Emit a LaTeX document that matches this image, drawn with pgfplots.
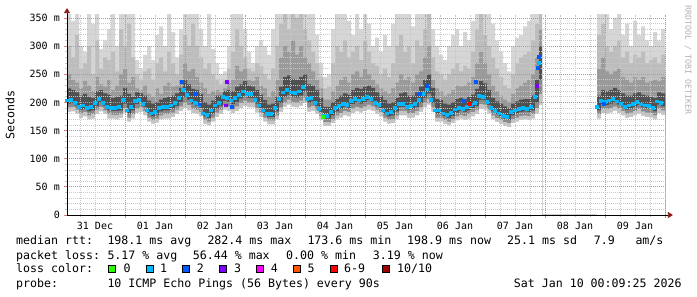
\documentclass[border=0pt]{standalone}
\usepackage{fontspec}
\setmainfont{DejaVu Sans Mono}
\usepackage{pgfplots}
\pgfplotsset{compat=1.18}
\usepackage{pgfplotstable}
\usetikzlibrary{arrows.meta}
\definecolor{mgrid}{RGB}{222,130,130}
\definecolor{sgrid}{RGB}{200,200,200}
\definecolor{arr}{RGB}{140,25,25}
\definecolor{s1}{RGB}{214,214,214}
\definecolor{s2}{RGB}{189,189,189}
\definecolor{s3}{RGB}{154,154,154}
\definecolor{s4}{RGB}{80,80,80}
\definecolor{s5}{RGB}{138,138,138}
\definecolor{s6}{RGB}{196,196,196}
\definecolor{lzero}{HTML}{26FF00}
\definecolor{lone}{HTML}{00B8FF}
\definecolor{ltwo}{HTML}{0059FF}
\definecolor{lthree}{HTML}{7E00FF}
\definecolor{lfour}{HTML}{FF00FF}
\definecolor{lfive}{HTML}{FF5500}
\definecolor{lsix}{HTML}{FF0000}
\definecolor{lten}{HTML}{A10000}
\newcommand{\lf}{\fontsize{11.6bp}{14bp}\selectfont}
\newcommand{\tf}{\fontsize{10bp}{12bp}\selectfont}
% x = minutes/24 since 31 Dec 00:00 (1 unit = 24 min), y = ms
\pgfplotstableread{
x t a b c m d e f
2 360 300 250 225 204 198 191 183
6 345 280 240 222 205 199 192 184
10 360 320 235 218 200 194 187 179
14 300 260 225 212 193 187 180 172
18 290 270 238 215 195 189 183 175
22 360 300 230 210 190 184 177 170
26 340 250 220 208 192 186 179 171
30 360 310 245 220 200 194 187 179
34 295 260 232 222 206 200 192 184
38 310 280 228 216 200 194 186 179
42 330 275 240 214 192 186 179 171
46 360 290 222 208 191 185 178 171
50 300 255 230 210 191 185 178 170
54 360 330 250 212 192 186 179 172
58 360 300 260 226 205 198 190 182
62 360 340 235 215 186 180 173 166
66 360 280 245 210 192 186 179 171
70 275 250 225 218 203 197 189 181
74 260 240 222 216 205 199 191 183
78 285 255 230 212 198 192 185 177
82 300 260 215 203 186 180 173 166
86 275 240 210 198 181 175 169 162
90 320 270 225 200 184 178 171 164
94 335 280 215 205 190 184 177 170
98 300 255 230 208 192 186 179 171
102 360 290 235 210 192 186 179 171
106 325 270 228 212 195 189 182 174
110 280 250 230 216 200 194 187 179
114 330 285 240 226 208 201 193 185
118 360 320 270 240 222 210 200 190
122 360 300 255 232 213 204 195 186
126 360 340 260 224 204 197 189 181
130 360 300 245 222 200 194 187 179
134 330 280 235 215 196 190 183 175
138 300 260 225 200 181 175 169 162
142 360 270 215 196 178 172 166 159
146 295 250 220 203 186 180 173 166
150 270 240 222 212 195 189 182 174
154 250 232 218 212 200 194 187 179
158 255 238 225 220 210 203 195 187
162 300 260 235 222 208 201 193 185
166 360 290 240 220 204 197 189 181
170 360 330 265 228 208 201 193 185
174 360 300 255 232 214 207 199 190
178 330 280 260 238 220 212 203 194
182 290 260 240 230 215 208 200 191
186 270 255 238 228 215 208 200 191
190 300 270 245 222 205 198 190 182
194 310 265 230 214 195 189 182 174
198 300 250 225 204 186 180 173 166
202 285 240 210 196 180 174 168 161
206 330 260 220 198 180 174 168 161
210 360 300 240 210 190 184 177 170
214 360 340 280 228 206 199 191 183
218 360 360 300 245 218 210 201 192
222 360 330 290 248 222 214 205 196
226 360 360 310 242 218 210 201 192
230 360 350 285 240 217 209 200 191
234 360 360 300 245 220 212 203 194
238 360 330 280 250 228 219 209 199
242 360 310 270 232 206 199 191 183
246 360 290 255 230 209 202 194 185
250 320 270 240 222 200 194 187 179
254 270 245 225 208 189 183 176 169
258 245 225 205 192 176 171 165 158
262 250 228 205 192 176 171 165 158
266 330 270 220 200 183 177 170 163
270 360 300 230 206 190 184 177 170
274 360 290 240 212 194 188 181 173
278 360 310 245 216 198 192 185 177
282 345 280 235 214 196 190 183 175
286 320 290 250 222 203 197 189 181
290 360 300 255 226 206 200 192 184
294 330 275 245 224 204 198 190 182
298 360 310 260 228 207 201 193 185
302 340 290 250 230 210 204 196 187
306 300 270 240 226 207 201 193 185
310 315 265 232 218 200 194 187 179
314 290 250 225 212 196 190 183 175
318 320 260 220 204 186 180 173 166
322 300 245 215 198 181 175 169 162
326 340 270 225 200 183 177 170 163
330 360 300 235 208 190 184 177 170
334 360 320 250 216 198 192 185 177
338 360 290 240 218 198 192 185 177
342 360 300 245 212 193 187 180 172
346 335 270 235 212 194 188 181 173
350 360 310 250 218 198 192 185 177
354 360 300 255 228 205 199 191 183
358 360 330 280 240 215 208 200 191
362 360 360 300 250 225 216 206 196
366 330 280 240 226 205 199 191 183
370 300 255 225 206 186 180 173 166
374 285 250 220 204 186 180 173 166
378 275 240 212 198 181 175 169 162
382 300 250 215 196 178 172 166 159
386 320 260 222 200 182 176 170 163
390 330 270 230 206 188 182 175 168
394 300 255 228 208 191 185 178 171
398 325 265 230 206 189 183 176 169
402 310 260 235 210 192 186 179 171
406 345 290 245 214 196 190 183 175
410 360 330 270 224 200 194 187 179
414 360 360 290 238 212 205 197 188
418 360 320 270 234 210 204 196 187
422 360 300 250 222 201 195 188 180
426 340 280 230 208 190 184 177 170
430 310 260 220 202 185 179 172 165
434 290 245 212 198 181 175 169 162
438 270 230 205 193 177 171 165 158
442 255 225 200 190 175 169 163 156
446 300 250 215 198 183 177 170 163
450 315 270 225 202 186 180 173 166
454 320 280 230 205 189 183 176 169
458 335 285 235 206 190 184 177 170
462 345 290 240 206 189 183 176 169
466 360 310 250 212 192 186 179 171
470 360 340 280 240 210 200 190 180
474 360 360 330 300 270 240 215 195
477 0 0 0 0 nan 0 0 0
532 360 320 260 212 192 186 179 171
536 360 340 280 222 203 197 189 181
540 360 300 255 220 201 195 188 180
544 330 290 250 222 204 198 190 182
548 350 300 255 226 207 201 193 185
552 360 310 260 222 202 196 189 181
556 320 280 245 216 198 192 185 177
560 340 290 240 212 193 187 180 172
564 300 270 235 212 195 189 182 174
568 345 285 245 216 198 192 185 177
572 320 280 240 218 201 195 188 180
576 335 290 245 214 197 191 184 176
580 310 270 235 212 195 189 182 174
584 300 275 238 210 194 188 181 173
588 325 280 240 208 190 184 177 170
592 310 270 238 218 202 196 189 181
596 330 285 245 216 199 193 186 178
600.4 330 285 245 216 nan 193 186 178
}\smoke
\begin{document}
\begin{tikzpicture}
\path[use as bounding box] (0bp,0bp) rectangle (697bp,297bp);
\begin{axis}[
  at={(67bp,82bp)}, anchor=south west,
  scale only axis, width=598.4bp, height=200.4bp,
  xmin=2, xmax=600.4, ymin=0, ymax=356,
  axis on top,
  axis x line*=bottom, axis y line*=left,
  axis line style={black, line width=0.8bp},
  x axis line style={-{Triangle[length=5bp,width=6bp,color=arr]}, shorten >=-7.5bp},
  y axis line style={-{Triangle[length=5bp,width=6bp,color=arr]}, shorten >=-6.5bp},
  tick align=outside,
  major tick length=3bp, minor tick length=2bp,
  every major tick/.style={mgrid, line width=0.8bp},
  every minor tick/.style={sgrid, line width=0.8bp},
  grid=both,
  major grid style={mgrid, line width=0.8bp, dash pattern=on 1bp off 1bp},
  minor grid style={sgrid, line width=0.8bp, dash pattern=on 1bp off 1bp},
  xtick={60,120,180,240,300,360,420,480,540,600},
  xticklabels={},
  minor xtick={15,30,45,75,90,105,135,150,165,195,210,225,255,270,285,315,330,345,375,390,405,435,450,465,495,510,525,555,570,585},
  extra x ticks={30,90,150,210,270,330,390,450,510,570},
  extra x tick labels={31 Dec,01 Jan,02 Jan,03 Jan,04 Jan,05 Jan,06 Jan,07 Jan,08 Jan,09 Jan},
  extra x tick style={grid=none, major tick length=0pt},
  ytick={0,50,100,150,200,250,300,350},
  yticklabels={0,50 m,100 m,150 m,200 m,250 m,300 m,350 m},
  minor ytick={10,20,30,40,60,70,80,90,110,120,130,140,160,170,180,190,210,220,230,240,260,270,280,290,310,320,330,340},
  xticklabel style={font=\tf, inner sep=0pt, anchor=north, yshift=-6.5bp},
  yticklabel style={font=\tf, inner sep=0pt, anchor=east, xshift=-4bp},
  ylabel={Seconds},
  every axis y label/.style={at={(axis description cs:-0.0953,0.5)}, rotate=90, anchor=center, font=\lf},
]
\addplot[const plot, fill=s1, draw=none] table[x=x,y=t] {\smoke} \closedcycle;
\addplot[const plot, fill=s2, draw=none] table[x=x,y=a] {\smoke} \closedcycle;
\addplot[const plot, fill=s3, draw=none] table[x=x,y=b] {\smoke} \closedcycle;
\addplot[const plot, fill=s4, draw=none] table[x=x,y=c] {\smoke} \closedcycle;
\addplot[const plot, fill=s5, draw=none] table[x=x,y=d] {\smoke} \closedcycle;
\addplot[const plot, fill=s6, draw=none] table[x=x,y=e] {\smoke} \closedcycle;
\addplot[const plot, fill=white, draw=none] table[x=x,y=f] {\smoke} \closedcycle;
\addplot[only marks, mark=square*, mark size=1.4bp, color=lone] table[x=x,y=m] {\smoke};
\addplot[only marks, mark=square*, mark size=1.4bp, color=ltwo] coordinates {
 (116.7,237) (131,215) (135,197) (167,192) (355,216) (362,229) (399,203) (411,237) (473,261) (474,281) (539,198)};
\addplot[only marks, mark=square*, mark size=1.4bp, color=lthree] coordinates {(161,195) (162,237) (472,229)};
\addplot[only marks, mark=square*, mark size=1.4bp, color=lzero] coordinates {(258,175)};
\addplot[only marks, mark=square*, mark size=1.4bp, color=lsix] coordinates {(405,198)};
\end{axis}
\node[rotate=-90, font=\fontsize{8.3bp}{10bp}\selectfont, text=black!30, inner sep=0pt] at (688bp,237bp) {RRDTOOL / TOBI OETIKER};
% legend
\begin{scope}[font=\lf]
\node[anchor=base west, inner sep=0pt] at (16bp,52bp) {median rtt:};
\node[anchor=base west, inner sep=0pt] at (107.3bp,52bp) {198.1 ms avg};
\node[anchor=base west, inner sep=0pt] at (207.3bp,52bp) {282.4 ms max};
\node[anchor=base west, inner sep=0pt] at (307.3bp,52bp) {173.6 ms min};
\node[anchor=base west, inner sep=0pt] at (407bp,52bp) {198.9 ms now};
\node[anchor=base west, inner sep=0pt] at (507bp,52bp) {25.1 ms sd};
\node[anchor=base west, inner sep=0pt] at (593.7bp,52bp) {7.9};
\node[anchor=base west, inner sep=0pt] at (635.3bp,52bp) {am/s};
\node[anchor=base west, inner sep=0pt] at (16bp,38bp) {packet loss:};
\node[anchor=base west, inner sep=0pt] at (107.3bp,38bp) {5.17 \% avg};
\node[anchor=base west, inner sep=0pt] at (192.7bp,38bp) {56.44 \% max};
\node[anchor=base west, inner sep=0pt] at (286bp,38bp) {0.00 \% min};
\node[anchor=base west, inner sep=0pt] at (372.7bp,38bp) {3.19 \% now};
\node[anchor=base west, inner sep=0pt] at (16bp,24.3bp) {loss color:};
\foreach \bx/\col/\lab/\lx in {108.7/lzero/0/123.3, 146/lone/1/160, 182.7/ltwo/2/196.7, 219.3/lthree/3/234, 256.7/lfour/4/270.7, 293.3/lfive/5/307.3, 330/lsix/6-9/344, 382.3/lten/10\slash 10/397}{
  \draw[fill=\col, draw=black, line width=0.6bp] (\bx bp,24.7bp) rectangle ++(6.8bp,7.3bp);
  \node[anchor=base west, inner sep=0pt] at (\lx bp,24.3bp) {\lab};
}
\node[anchor=base west, inner sep=0pt] at (16bp,9.7bp) {probe:};
\node[anchor=base west, inner sep=0pt] at (107.3bp,9.7bp) {10 ICMP Echo Pings (56 Bytes) every 90s};
\node[anchor=base west, inner sep=0pt] at (513.7bp,9.7bp) {Sat Jan 10 00:09:25 2026};
\end{scope}
\end{tikzpicture}
\end{document}
